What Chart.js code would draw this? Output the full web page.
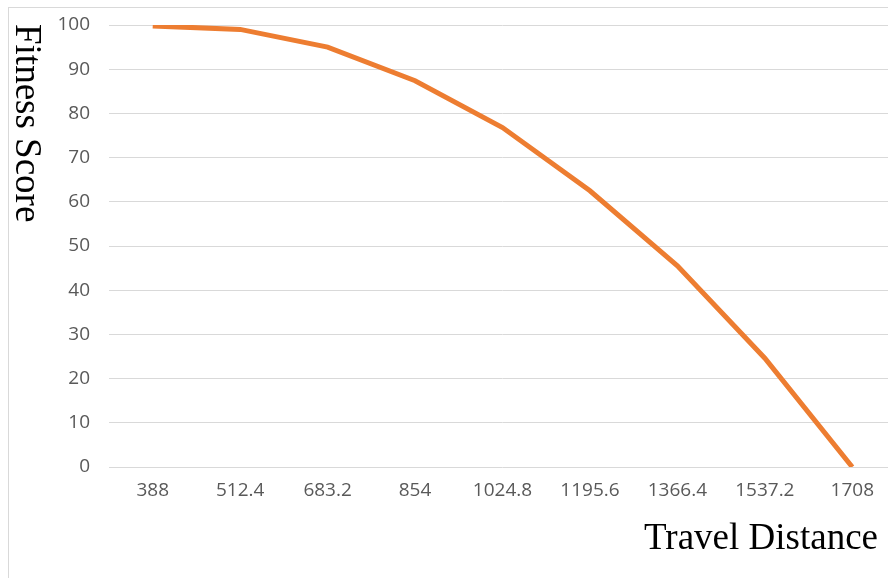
<!DOCTYPE html>
<html>
<head>
<meta charset="utf-8">
<script src="https://cdn.jsdelivr.net/npm/chart.js@4"></script>
<style>
  html, body { margin: 0; padding: 0; overflow: hidden; background: #fff; }
  #wrap { position: absolute; left: 0; top: 0; width: 905px; height: 578px; }
  #frame { position: absolute; left: 8px; top: 7px; width: 1000px; height: 1000px;
           border-left: 1px solid #d9d9d9; border-top: 1px solid #d9d9d9; }
</style>
</head>
<body>
<div id="frame"></div>
<div id="wrap"><canvas id="fit-chart"></canvas></div>
<script>
const distances = ['388', '512.4', '683.2', '854', '1024.8', '1195.6', '1366.4', '1537.2', '1708'];
const fitness = [99.8, 99.0, 95.0, 87.4, 76.8, 62.5, 45.5, 24.6, 0];
const yTicks = [0, 10, 20, 30, 40, 50, 60, 70, 80, 90, 100];

const titleText = {
    id: 'titleText',
    afterDraw(chart) {
        const c = chart.ctx;
        c.save();
        c.fillStyle = '#000';
        c.font = '37px "Liberation Serif"';
        c.textBaseline = 'alphabetic';
        // vertical title, read from top to bottom
        c.translate(16, 24);
        c.rotate(Math.PI / 2);
        c.textAlign = 'left';
        c.fillText('Fitness Score', 0, 0);
        c.restore();

        c.save();
        c.fillStyle = '#000';
        c.font = '37px "Liberation Serif"';
        c.textAlign = 'right';
        c.textBaseline = 'alphabetic';
        c.fillText('Travel Distance', 878, 549);
        c.restore();
    }
};

const ctx = document.getElementById('fit-chart');

const myChart = new Chart(ctx, {
    type: 'line',
    data: {
        labels: distances,
        datasets: [{
            label: 'Fitness Score',
            data: fitness,
            borderColor: '#ED7D31',
            borderWidth: 5,
            tension: 0,
            pointRadius: 0,
            fill: false
        }]
    },
    options: {
        responsive: true,
        maintainAspectRatio: false,
        animation: false,
        layout: {
            padding: { left: 50, right: 9, top: 25, bottom: 75 }
        },
        plugins: {
            legend: { display: false },
            tooltip: { enabled: false }
        },
        scales: {
            x: {
                offset: true,
                grid: { display: false },
                border: { display: false },
                ticks: {
                    color: '#595959',
                    padding: 4,
                    maxRotation: 0,
                    autoSkip: false,
                    font: { family: 'Open Sans', size: 19 }
                },
                afterFit(scale) {
                    scale.height = 36;
                    scale.paddingLeft = 0;
                    scale.paddingRight = 0;
                }
            },
            y: {
                min: 0,
                max: 100,
                afterBuildTicks(scale) {
                    scale.ticks = yTicks.map(v => ({ value: v }));
                },
                grid: { color: '#d9d9d9', lineWidth: 1, drawTicks: false },
                border: { display: false },
                ticks: {
                    color: '#595959',
                    padding: 19,
                    font: { family: 'Open Sans', size: 19 }
                },
                afterFit(scale) {
                    scale.width = 59;
                    scale.paddingTop = 0;
                    scale.paddingBottom = 0;
                }
            }
        }
    },
    plugins: [titleText]
});
</script>
</body>
</html>
